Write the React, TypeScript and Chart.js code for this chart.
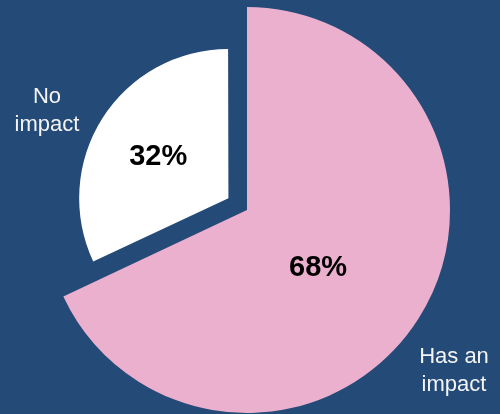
import React, { useEffect, useRef } from "react";
import { Chart, registerables } from "chart.js";

Chart.register(...registerables);

const categories = ["Has an impact", "No impact"];
const values = [68, 32];
const sliceColors = ["#ecb0cf", "#ffffff"];
const percentLabels = ["68%", "32%"];
const outerLabels = [["Has an", "impact"], ["No", "impact"]];

const BG = "#244a77";
const FONT = "'Liberation Sans', Arial, Helvetica, sans-serif";

const shrinkPlugin = {
  id: "shrinkSecond",
  afterDatasetsUpdate(chart: any) {
    const meta = chart.getDatasetMeta(0);
    const arc = meta.data[1];
    if (arc) arc.outerRadius = arc.outerRadius * 0.725;
  },
};

const labelPlugin = {
  id: "sliceLabels",
  afterDatasetsDraw(chart: any) {
    const ctx = chart.ctx;
    const meta = chart.getDatasetMeta(0);
    const main = meta.data[0];
    const cx = main.x;
    const cy = main.y;
    const R = main.outerRadius;
    ctx.save();
    const inner = [
      { ang: 39.2, frac: 0.452 },
      { ang: 211, frac: 0.51 },
    ];
    ctx.fillStyle = "#000000";
    ctx.font = `bold 29px ${FONT}`;
    ctx.textAlign = "center";
    ctx.textBaseline = "middle";
    inner.forEach((p, i) => {
      const a = (p.ang * Math.PI) / 180;
      ctx.fillText(percentLabels[i], cx + Math.cos(a) * R * p.frac, cy + Math.sin(a) * R * p.frac);
    });
    const outer = [
      { dx: 207, dy: 153 },
      { dx: -200, dy: -107 },
    ];
    ctx.fillStyle = "#f4f4f4";
    ctx.font = `22px ${FONT}`;
    ctx.textBaseline = "alphabetic";
    outer.forEach((p, i) => {
      outerLabels[i].forEach((line, j) => {
        ctx.fillText(line, cx + p.dx, cy + p.dy + j * 28);
      });
    });
    ctx.restore();
  },
};

export default function App() {
  const ref = useRef<HTMLCanvasElement | null>(null);
  useEffect(() => {
    document.body.style.margin = "0";
    if (!ref.current) return;
    const chart = new Chart(ref.current, {
      type: "pie",
      data: {
        labels: categories,
        datasets: [
          {
            data: values,
            backgroundColor: sliceColors,
            borderWidth: 0,
            offset: [0, 88],
            hoverOffset: 0,
          },
        ],
      },
      options: {
        animation: false,
        responsive: true,
        maintainAspectRatio: false,
        radius: 203,
        layout: { padding: { left: 0, right: 6, top: 6, bottom: 0 } },
        plugins: {
          legend: { display: false },
          tooltip: { enabled: false },
        },
        events: [],
      } as any,
      plugins: [shrinkPlugin, labelPlugin],
    });
    return () => chart.destroy();
  }, []);
  return (
    <div style={{ width: 500, height: 414, background: BG, position: "relative" }}>
      <canvas ref={ref} />
    </div>
  );
}
